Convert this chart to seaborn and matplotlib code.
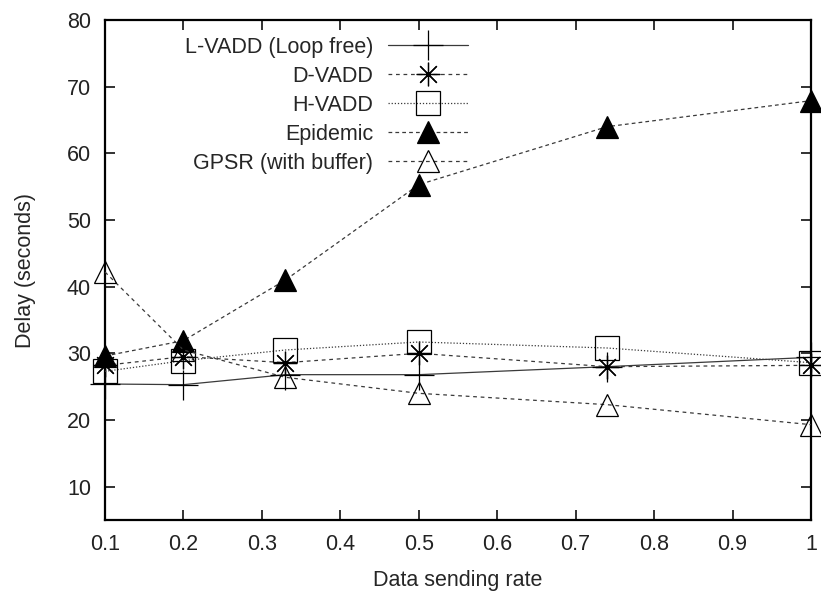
import pandas as pd
import matplotlib
matplotlib.use("Agg")
import matplotlib.pyplot as plt
import seaborn as sns

# data sending rate (x) and delay in seconds for each protocol
rates = [0.1, 0.2, 0.33, 0.5, 0.74, 1.0]
l_vadd = [25.4, 25.3, 26.8, 26.8, 28.0, 29.4]
d_vadd = [28.2, 29.5, 28.6, 30.0, 28.0, 28.2]
h_vadd = [27.3, 28.9, 30.5, 31.7, 30.8, 28.6]
epidemic = [29.6, 31.9, 41.0, 55.3, 64.0, 67.9]
gpsr = [42.2, 30.5, 26.4, 24.0, 22.3, 19.3]

series_names = ["L-VADD (Loop free)", "D-VADD", "H-VADD", "Epidemic", "GPSR (with buffer)"]
series_vals = [l_vadd, d_vadd, h_vadd, epidemic, gpsr]
x_ticks = [0.1, 0.2, 0.3, 0.4, 0.5, 0.6, 0.7, 0.8, 0.9, 1.0]
x_tick_labels = ["0.1", "0.2", "0.3", "0.4", "0.5", "0.6", "0.7", "0.8", "0.9", "1"]
y_ticks = [10, 20, 30, 40, 50, 60, 70, 80]

df = pd.DataFrame({
    "rate": rates * len(series_names),
    "delay": sum(series_vals, []),
    "protocol": [n for n in series_names for _ in rates],
})

sns.set_style("ticks")
plt.rcParams["font.family"] = ["Liberation Sans", "DejaVu Sans"]
fs = 15.5

# line style, marker, marker size, face colour per protocol
styles = {
    "L-VADD (Loop free)": dict(linestyle="-", marker="+", markersize=21, mfc="none"),
    "D-VADD": dict(linestyle=(0, (3, 3)), marker=(8, 2, 0), markersize=17, mfc="none"),
    "H-VADD": dict(linestyle=(0, (1, 1.5)), marker="s", markersize=17, mfc="none"),
    "Epidemic": dict(linestyle=(0, (3, 2.5)), marker="^", markersize=15.5, mfc="black"),
    "GPSR (with buffer)": dict(linestyle=(0, (3, 3)), marker="^", markersize=15.5, mfc="none"),
}

fig = plt.figure(figsize=(8.21, 5.94), dpi=100)
ax = fig.add_axes([0.1279, 0.1246, 0.8599, 0.8417])

for name in series_names:
    sub = df[df["protocol"] == name]
    sns.lineplot(data=sub, x="rate", y="delay", ax=ax, color="#3a3a3a", label=name,
                 linewidth=0.9, mec="black", mew=0.9, clip_on=False, zorder=3,
                 **styles[name])

ax.set_xlim(0.1, 1.0)
ax.set_ylim(5, 80)
ax.set_xticks(x_ticks)
ax.set_xticklabels(x_tick_labels)
ax.set_yticks(y_ticks)
ax.tick_params(direction="in", length=7.5, width=1.3, top=True, right=True, pad=10,
               labelsize=fs, colors="#222222")
for sp in ax.spines.values():
    sp.set_visible(True)
    sp.set_linewidth(1.6)
    sp.set_color("black")

ax.set_xlabel("Data sending rate", fontsize=fs, labelpad=11)
ax.set_ylabel("Delay (seconds)", fontsize=fs, labelpad=22)

ax.legend(loc="upper left", bbox_to_anchor=(0.098, 0.988), frameon=False,
          markerfirst=False, numpoints=1, handlelength=3.7, handletextpad=0.7,
          labelspacing=0.37, borderpad=0, fontsize=fs)

fig.savefig("out.png", dpi=100)
